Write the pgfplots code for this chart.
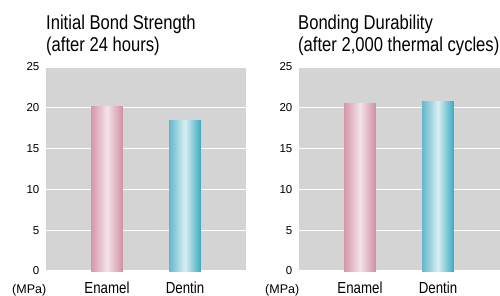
\documentclass[border=0pt]{standalone}
\usepackage{fontspec}
\setmainfont{Liberation Sans}
\newfontfamily\narrow[FakeStretch=0.83]{Liberation Sans}
\usepackage{pgfplots}
\pgfplotsset{compat=1.18}
\definecolor{bggray}{HTML}{D4D4D4}
\definecolor{pinkE}{HTML}{D596A8}
\definecolor{pinkEr}{HTML}{D08EA1}
\definecolor{pinkC}{HTML}{F3E3E8}
\definecolor{blueE}{HTML}{62B8CA}
\definecolor{blueEr}{HTML}{38A9BF}
\definecolor{blueC}{HTML}{D8EEF3}
\pgfplotsset{
  mybars/.style={
    scale only axis,
    anchor=south west,
    height=204pt,
    ymin=0, ymax=25,
    ytick={0,5,10,15,20,25},
    xtick={0,1},
    xticklabels={Enamel,Dentin},
    axis background/.style={fill=bggray},
    axis line style={draw=none},
    major tick length=0pt,
    ymajorgrids,
    grid style={white, line width=1.3pt},
    /pgf/number format/assume math mode=true,
    yticklabel style={font=\fontsize{11.5}{12}\selectfont, anchor=east, inner sep=0pt, xshift=-6.5pt},
    xticklabel style={font=\narrow\fontsize{16}{18}\selectfont, anchor=base, inner sep=0pt, yshift=-22pt},
  },
  pinkbar/.style={draw=none, mark=none, left color=pinkE, right color=pinkEr, middle color=pinkC},
  bluebar/.style={draw=none, mark=none, left color=blueE, right color=blueEr, middle color=blueC},
}
\begin{document}
\begin{tikzpicture}
\path[use as bounding box] (-46pt,-24pt) rectangle (454pt,271pt);
\begin{axis}[mybars, at={(0pt,0pt)}, width=200pt, xmin=-0.782, xmax=1.782]
% Enamel = 20.2
\addplot[pinkbar] coordinates {(-0.205,20.2) (0.205,20.2)} \closedcycle;
% Dentin = 18.5
\addplot[bluebar] coordinates {(0.795,18.5) (1.205,18.5)} \closedcycle;
\end{axis}
\begin{axis}[mybars, at={(253pt,0pt)}, width=201pt, xmin=-0.782, xmax=1.795]
% Enamel = 20.5
\addplot[pinkbar] coordinates {(-0.205,20.5) (0.205,20.5)} \closedcycle;
% Dentin = 20.8
\addplot[bluebar] coordinates {(0.795,20.8) (1.205,20.8)} \closedcycle;
\end{axis}
\node[anchor=base west, inner sep=0pt, font=\narrow\fontsize{20}{24}\selectfont] at (0pt,241.5pt) {Initial Bond Strength};
\node[anchor=base west, inner sep=0pt, font=\narrow\fontsize{20}{24}\selectfont] at (0pt,219pt) {(after 24 hours)};
\node[anchor=base west, inner sep=0pt, font=\narrow\fontsize{20}{24}\selectfont] at (252pt,241.5pt) {Bonding Durability};
\node[anchor=base west, inner sep=0pt, font=\narrow\fontsize{20}{24}\selectfont] at (252pt,219pt) {(after 2,000 thermal cycles)};
\node[anchor=base west, inner sep=0pt, font=\fontsize{12.5}{14}\selectfont] at (-34pt,-22pt) {(MPa)};
\node[anchor=base west, inner sep=0pt, font=\fontsize{12.5}{14}\selectfont] at (219pt,-22pt) {(MPa)};
\end{tikzpicture}
\end{document}
